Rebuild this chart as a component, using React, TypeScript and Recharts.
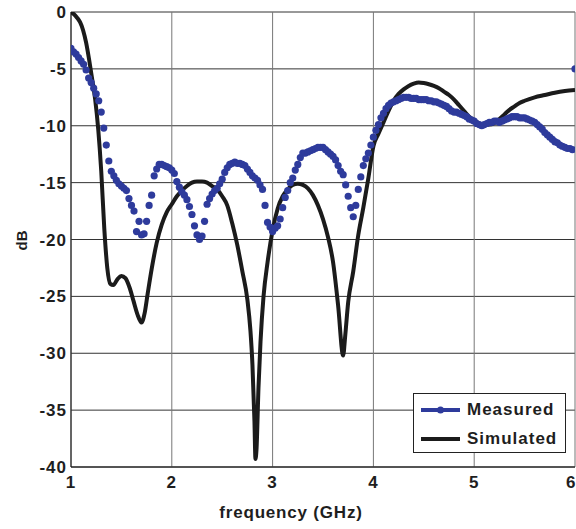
import React from 'react';
import { LineChart, Line, XAxis, YAxis, CartesianGrid, Legend } from 'recharts';

const xTicks = [1, 2, 3, 4, 5, 6];
const yTicks = [0, -5, -10, -15, -20, -25, -30, -35, -40];

// measured S11, every 0.025 GHz
const measuredFreq = [
  1.0, 1.025, 1.05, 1.075, 1.1, 1.125, 1.15, 1.175, 1.2, 1.225,
  1.25, 1.275, 1.3, 1.325, 1.35, 1.375, 1.4, 1.425, 1.45, 1.475,
  1.5, 1.525, 1.55, 1.575, 1.6, 1.625, 1.65, 1.675, 1.7, 1.725,
  1.75, 1.775, 1.8, 1.825, 1.85, 1.875, 1.9, 1.925, 1.95, 1.975,
  2.0, 2.025, 2.05, 2.075, 2.1, 2.125, 2.15, 2.175, 2.2, 2.225,
  2.25, 2.275, 2.3, 2.325, 2.35, 2.375, 2.4, 2.425, 2.45, 2.475,
  2.5, 2.525, 2.55, 2.575, 2.6, 2.625, 2.65, 2.675, 2.7, 2.725,
  2.75, 2.775, 2.8, 2.825, 2.85, 2.875, 2.9, 2.925, 2.95, 2.975,
  3.0, 3.025, 3.05, 3.075, 3.1, 3.125, 3.15, 3.175, 3.2, 3.225,
  3.25, 3.275, 3.3, 3.325, 3.35, 3.375, 3.4, 3.425, 3.45, 3.475,
  3.5, 3.525, 3.55, 3.575, 3.6, 3.625, 3.65, 3.675, 3.7, 3.725,
  3.75, 3.775, 3.8, 3.825, 3.85, 3.875, 3.9, 3.925, 3.95, 3.975,
  4.0, 4.025, 4.05, 4.075, 4.1, 4.125, 4.15, 4.175, 4.2, 4.225,
  4.25, 4.275, 4.3, 4.325, 4.35, 4.375, 4.4, 4.425, 4.45, 4.475,
  4.5, 4.525, 4.55, 4.575, 4.6, 4.625, 4.65, 4.675, 4.7, 4.725,
  4.75, 4.775, 4.8, 4.825, 4.85, 4.875, 4.9, 4.925, 4.95, 4.975,
  5.0, 5.025, 5.05, 5.075, 5.1, 5.125, 5.15, 5.175, 5.2, 5.225,
  5.25, 5.275, 5.3, 5.325, 5.35, 5.375, 5.4, 5.425, 5.45, 5.475,
  5.5, 5.525, 5.55, 5.575, 5.6, 5.625, 5.65, 5.675, 5.7, 5.725,
  5.75, 5.775, 5.8, 5.825, 5.85, 5.875, 5.9, 5.925, 5.95, 5.975,
  6.0,
];
const measuredDb = [
  -3.2, -3.5, -3.7, -4.0, -4.3, -4.6, -5.1, -5.8, -6.2, -6.7,
  -7.2, -7.8, -8.8, -10.2, -11.7, -13.1, -14.0, -14.4, -14.8, -15.1,
  -15.3, -15.5, -15.7, -16.4, -17.0, -17.5, -19.3, -18.4, -19.6, -19.5,
  -18.4, -17.0, -16.1, -14.4, -13.8, -13.4, -13.4, -13.5, -13.6, -13.7,
  -13.9, -14.2, -14.9, -15.4, -15.8, -16.1, -16.5, -17.1, -17.8, -18.8,
  -19.6, -20.0, -19.7, -18.4, -16.9, -16.4, -16.0, -15.7, -15.5, -15.1,
  -14.7, -14.1, -13.7, -13.4, -13.3, -13.2, -13.3, -13.3, -13.4, -13.5,
  -13.8, -14.1, -14.4, -14.6, -14.8, -15.2, -15.6, -17.0, -18.5, -18.9,
  -19.3, -19.0, -18.8, -18.2, -17.2, -16.3, -15.7, -15.0, -14.6, -13.9,
  -13.4, -12.8, -12.4, -12.4, -12.3, -12.2, -12.1, -12.0, -11.9, -11.9,
  -11.9, -12.1, -12.3, -12.5, -12.7, -13.0, -13.5, -14.0, -14.3, -15.2,
  -16.2, -17.2, -18.0, -17.0, -15.6, -14.5, -13.5, -12.9, -12.4, -11.7,
  -11.0, -10.4, -9.9, -9.3, -8.9, -8.5, -8.2, -8.0, -7.9, -7.8,
  -7.7, -7.6, -7.5, -7.5, -7.5, -7.6, -7.6, -7.6, -7.7, -7.7,
  -7.7, -7.7, -7.8, -7.8, -7.9, -7.9, -8.0, -8.1, -8.2, -8.3,
  -8.5, -8.7, -8.8, -8.8, -8.9, -9.0, -9.1, -9.2, -9.4, -9.5,
  -9.6, -9.8, -9.9, -10.0, -9.9, -9.8, -9.7, -9.7, -9.6, -9.6,
  -9.7, -9.6, -9.5, -9.4, -9.3, -9.2, -9.2, -9.2, -9.3, -9.3,
  -9.3, -9.4, -9.5, -9.6, -9.7, -9.9, -10.1, -10.3, -10.6, -10.8,
  -11.0, -11.2, -11.4, -11.5, -11.7, -11.8, -11.9, -12.0, -12.0, -12.1,
  -5.0,
];

// simulated S11 (smooth curve), denser samples around the notches
const simulatedFreq = [
  1.0, 1.03, 1.06, 1.09, 1.12, 1.15, 1.18, 1.21, 1.24, 1.27,
  1.3, 1.33, 1.36, 1.39, 1.42, 1.46, 1.5, 1.54, 1.58, 1.62,
  1.66, 1.7, 1.73, 1.76, 1.8, 1.85, 1.9, 1.95, 2.0, 2.05,
  2.1, 2.15, 2.2, 2.25, 2.3, 2.35, 2.4, 2.45, 2.5, 2.55,
  2.6, 2.65, 2.7, 2.75, 2.78, 2.8, 2.82, 2.83, 2.84, 2.86,
  2.88, 2.91, 2.95, 3.0, 3.05, 3.1, 3.15, 3.2, 3.25, 3.3,
  3.35, 3.4, 3.45, 3.5, 3.55, 3.6, 3.65, 3.7, 3.72, 3.75,
  3.8, 3.85, 3.9, 3.95, 4.0, 4.05, 4.1, 4.15, 4.2, 4.25,
  4.3, 4.35, 4.4, 4.45, 4.5, 4.55, 4.6, 4.65, 4.7, 4.75,
  4.8, 4.85, 4.9, 4.95, 5.0, 5.05, 5.1, 5.15, 5.2, 5.25,
  5.3, 5.35, 5.4, 5.45, 5.5, 5.6, 5.7, 5.8, 5.9, 6.0,
];
const simulatedDb = [
  0, -0.2, -0.5, -0.9, -1.6, -2.7, -4.2, -5.9, -7.7, -10.3,
  -14.0, -19.0, -22.5, -23.9, -24.0, -23.5, -23.2, -23.4, -24.2, -25.4,
  -26.6, -27.3, -26.5, -24.8, -22.6, -20.3, -18.7, -17.6, -16.9, -16.2,
  -15.7, -15.3, -15.0, -14.9, -14.9, -15.0, -15.3, -15.6, -16.2, -17.0,
  -18.6, -20.5, -22.8, -25.3, -28.0, -31.0, -36.0, -39.3, -38.5, -33.0,
  -29.0, -25.0, -22.0, -19.2, -17.3, -16.2, -15.6, -15.2, -15.1, -15.2,
  -15.5, -16.1, -17.0, -18.2, -19.8, -22.0, -25.8, -30.2, -28.5, -25.5,
  -22.8, -19.6, -17.2, -14.6, -11.8, -10.7, -9.7, -8.7, -7.8, -7.2,
  -6.8, -6.5, -6.3, -6.2, -6.25, -6.35, -6.5, -6.7, -7.0, -7.3,
  -7.7, -8.2, -8.7, -9.2, -9.5, -9.8, -9.9, -9.9, -9.75, -9.4,
  -9.0, -8.6, -8.3, -8.0, -7.8, -7.5, -7.3, -7.1, -6.95, -6.85,
];

const measured = measuredFreq.map((f, i) => ({ f, db: measuredDb[i] }));
const simulated = simulatedFreq.map((f, i) => ({ f, db: simulatedDb[i] }));

const BLUE = '#2e3b9c';
const BLACK = '#1b1b1b';
const FONT = '"Liberation Sans", Arial, Helvetica, sans-serif';
const tickStyle = { fill: '#1e1e1e', fontSize: 17, fontWeight: 'bold', fontFamily: FONT, letterSpacing: 1 };

const XLabel = (props: any) => {
  const vb = props.viewBox;
  return (
    <text x={vb.x + 220} y={vb.y + 51} textAnchor="middle" fill="#1e1e1e"
      fontSize={17} fontWeight="bold" fontFamily={FONT} letterSpacing={0.8}>
      frequency (GHz)
    </text>
  );
};

const YLabel = (props: any) => {
  const vb = props.viewBox;
  const cx = vb.x + 21;
  const cy = vb.y + vb.height / 2 + 1;
  return (
    <text x={cx} y={cy} textAnchor="middle" dominantBaseline="central"
      transform={`rotate(-90, ${cx}, ${cy})`} fill="#1e1e1e"
      fontSize={15} fontWeight="bold" fontFamily={FONT}>
      dB
    </text>
  );
};

const LegendBox = () => (
  <div style={{
    width: 151, height: 58, background: '#fff', border: '1px solid #222',
    fontFamily: FONT, fontWeight: 'bold', fontSize: 17, letterSpacing: 1, color: '#1e1e1e',
  }}>
    {[
      { name: 'Measured', color: BLUE, dot: true, w: 4 },
      { name: 'Simulated', color: BLACK, dot: false, w: 4 },
    ].map((it, i) => (
      <div key={it.name} style={{ display: 'flex', alignItems: 'center', height: 29, marginTop: i === 0 ? 1 : 0 }}>
        <svg width={50} height={12} style={{ marginLeft: 7 }}>
          <line x1={0} y1={6} x2={39} y2={6} stroke={it.color} strokeWidth={it.w} />
          {it.dot && <circle cx={19.5} cy={6} r={3.5} fill={it.color} />}
        </svg>
        <span style={{ marginLeft: -4 }}>{it.name}</span>
      </div>
    ))}
  </div>
);

export default function App() {
  return (
    <div style={{ position: 'fixed', left: 0, top: 0, width: 576, height: 529, background: '#fff' }}>
      <LineChart width={576} height={529} margin={{ top: 12, right: 1, bottom: 0, left: 0 }}>
        <CartesianGrid vertical={false} stroke="#333" />
        <CartesianGrid horizontal={false} stroke="#777" />
        <XAxis
          type="number"
          dataKey="f"
          domain={[1, 6]}
          ticks={xTicks}
          allowDataOverflow
          height={62}
          tickLine={false}
          tickSize={0}
          tickMargin={9}
          axisLine={{ stroke: '#111' }}
          tick={tickStyle}
          label={<XLabel />}
        />
        <YAxis
          type="number"
          dataKey="db"
          domain={[-40, 0]}
          ticks={yTicks}
          allowDataOverflow
          width={71}
          tickLine={false}
          tickSize={0}
          tickMargin={4}
          axisLine={{ stroke: '#111' }}
          tick={tickStyle}
          label={<YLabel />}
        />
        <Line
          data={measured}
          dataKey="db"
          name="Measured"
          type="linear"
          stroke={BLUE}
          strokeWidth={0}
          dot={{ r: 3.6, fill: BLUE, stroke: 'none' }}
          activeDot={false}
          isAnimationActive={false}
        />
        <Line
          data={simulated}
          dataKey="db"
          name="Simulated"
          type="monotone"
          stroke={BLACK}
          strokeWidth={4}
          dot={false}
          activeDot={false}
          isAnimationActive={false}
        />
        <Legend
          layout="vertical"
          align="center"
          verticalAlign="middle"
          content={<LegendBox />}
          wrapperStyle={{ position: 'absolute', left: 413, top: 393, width: 153, height: 60 }}
        />
      </LineChart>
    </div>
  );
}
